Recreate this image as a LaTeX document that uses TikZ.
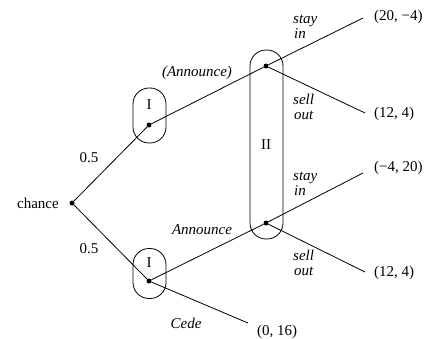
\documentclass[tikz,border=0pt]{standalone}
\usepackage{fontspec}
\setmainfont{Liberation Serif}
\begin{document}
\begin{tikzpicture}[x=1pt,y=-1pt,
  dot/.style={circle,fill,inner sep=0pt,minimum size=5pt},
  edge/.style={line width=0.8pt},
  info/.style={draw,line width=0.8pt,rounded corners=16pt,minimum width=33pt,inner sep=0pt},
  lbl/.style={font=\fontsize{15}{15}\selectfont,inner sep=0pt},
  act/.style={font=\fontsize{15}{12}\selectfont\itshape,inner sep=0pt},
  top/.style={act,anchor=base west},
  bot/.style={act,anchor=base west},
]
\useasboundingbox (0,0) rectangle (425,339);
% information sets
\node[info,minimum height=55pt] (h1) at (149.5,115.5) {};
\node[info,minimum height=50pt] (h2) at (149.5,273.5) {};
\node[info,minimum height=189pt] (h3) at (266.5,144.5) {};
% decision nodes
\node[dot] (ch) at (72,203) {};
\node[dot] (p1) at (149,125) {};
\node[dot] (p2) at (149,281) {};
\node[dot] (q1) at (266,66) {};
\node[dot] (q2) at (266,223) {};
% end points
\coordinate (e1) at (363,18);
\coordinate (e2) at (365,113);
\coordinate (e3) at (363,173);
\coordinate (e4) at (365,272);
\coordinate (e5) at (248,323);
% edges
\draw[edge] (ch) -- (p1);
\draw[edge] (ch) -- (p2);
\draw[edge] (p1) -- (q1);
\draw[edge] (p2) -- (q2);
\draw[edge] (p2) -- (e5);
\draw[edge] (q1) -- (e1);
\draw[edge] (q1) -- (e2);
\draw[edge] (q2) -- (e3);
\draw[edge] (q2) -- (e4);
% payoffs
\node[lbl,anchor=west] (t1) at (374,17) {(20, −4)};
\node[lbl,anchor=west] (t2) at (374,114) {(12, 4)};
\node[lbl,anchor=west] (t3) at (374,168) {(−4, 20)};
\node[lbl,anchor=west] (t4) at (374,273) {(12, 4)};
\node[lbl,anchor=west] (t5) at (257,332) {(0, 16)};
% labels
\node[lbl,anchor=east] (lch) at (59,203) {chance};
\node[lbl] (pr1) at (89,158) {0.5};
\node[lbl] (pr2) at (89,249) {0.5};
\node[lbl] (l1) at (149,105) {I};
\node[lbl] (l2) at (149,263) {I};
\node[lbl] (l3) at (266,145) {II};
\node[act] (a1) at (197,73) {(Announce)};
\node[act] (a2) at (202,230) {Announce};
\node[act] (a3) at (186,323) {Cede};
\node[top] (s1a) at (293,24) {stay};
\node[bot] (s1b) at (294,39) {in};
\node[top] (s2a) at (293,105) {sell};
\node[bot] (s2b) at (294,120) {out};
\node[top] (s3a) at (293,180) {stay};
\node[bot] (s3b) at (294,195) {in};
\node[top] (s4a) at (293,260) {sell};
\node[bot] (s4b) at (294,275) {out};
\end{tikzpicture}
\end{document}
